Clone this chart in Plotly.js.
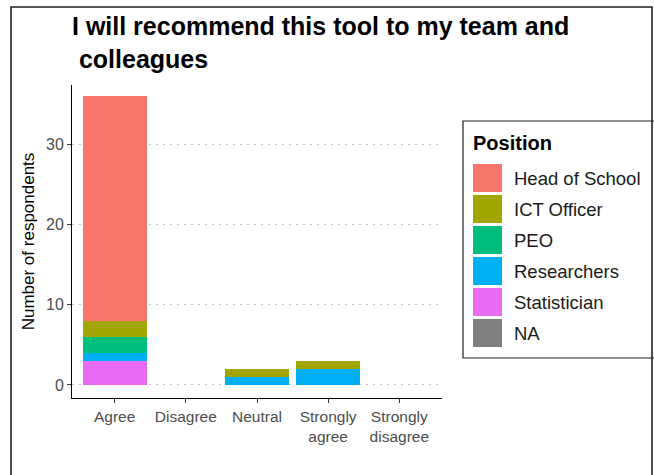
<!DOCTYPE html>
<html>
<head>
<meta charset="utf-8">
<script src="https://cdn.plot.ly/plotly-3.0.1.min.js"></script>
<style>
  html, body { margin: 0; padding: 0; background: #ffffff; }
  #chart { width: 654px; height: 475px; }
</style>
</head>
<body>
<div id="chart"></div>
<script>
// ---------- data ----------
const categories = ['Agree', 'Disagree', 'Neutral', 'Strongly agree', 'Strongly disagree'];
const tickLabels = ['Agree', 'Disagree', 'Neutral', 'Strongly<br>agree', 'Strongly<br>disagree'];
const positions = ['Head of School', 'ICT Officer', 'PEO', 'Researchers', 'Statistician', 'NA'];
const positionColors = ['#F8766D', '#A3A500', '#00BF7D', '#00B0F6', '#E76BF3', '#7F7F7F'];

const headOfSchool = [28, 0, 0, 0, 0];
const ictOfficer   = [2, 0, 1, 1, 0];
const peo          = [2, 0, 0, 0, 0];
const researchers  = [1, 0, 1, 2, 0];
const statistician = [3, 0, 0, 0, 0];
const naValues     = [0, 0, 0, 0, 0];

const seriesValues = [headOfSchool, ictOfficer, peo, researchers, statistician, naValues];
const yTicks = [0, 10, 20, 30];

// ---------- layout geometry (pixels) ----------
const W = 654, H = 475;
const M = { l: 72, r: 212, t: 85, b: 77 };
const plotW = W - M.l - M.r, plotH = H - M.t - M.b;
const px2x = px => (px - M.l) / plotW;
const px2y = py => (H - M.b - py) / plotH;

// ggplot stacks first level on top -> add traces bottom-up
const traces = [];
for (let i = positions.length - 1; i >= 0; i--) {
  traces.push({
    type: 'bar',
    name: positions[i],
    x: categories,
    y: seriesValues[i],
    marker: { color: positionColors[i], line: { width: 0 } },
    showlegend: false,
    hoverinfo: 'x+y+name'
  });
}

// ---------- custom legend (large swatches like ggplot) ----------
const shapes = [];
const annotations = [];
const FONT = 'Liberation Sans, Arial, sans-serif';

// outer frame
shapes.push({
  type: 'rect', xref: 'paper', yref: 'paper', layer: 'above',
  x0: px2x(11), x1: px2x(652), y0: px2y(490), y1: px2y(7),
  line: { color: '#222222', width: 1.6 }, fillcolor: 'rgba(0,0,0,0)'
});
// legend box
shapes.push({
  type: 'rect', xref: 'paper', yref: 'paper',
  x0: px2x(463), x1: px2x(670), y0: px2y(358), y1: px2y(121),
  line: { color: '#222222', width: 1.2 }, fillcolor: 'rgba(0,0,0,0)'
});
annotations.push({
  xref: 'paper', yref: 'paper', x: px2x(471), y: px2y(143),
  xanchor: 'left', yanchor: 'middle', showarrow: false,
  text: '<b>Position</b>', font: { family: FONT, size: 20, color: '#000000' }
});
positions.forEach((p, i) => {
  const top = 164 + 31 * i;
  shapes.push({
    type: 'rect', xref: 'paper', yref: 'paper',
    x0: px2x(473), x1: px2x(502), y0: px2y(top + 28), y1: px2y(top),
    line: { width: 0 }, fillcolor: positionColors[i]
  });
  annotations.push({
    xref: 'paper', yref: 'paper', x: px2x(512), y: px2y(top + 14),
    xanchor: 'left', yanchor: 'middle', showarrow: false,
    text: p, font: { family: FONT, size: 18.5, color: '#1a1a1a' }
  });
});

const layout = {
  width: W, height: H, autosize: false,
  margin: M,
  paper_bgcolor: '#ffffff', plot_bgcolor: '#ffffff',
  barmode: 'stack', bargap: 0.1,
  font: { family: FONT },
  title: {
    text: 'I will recommend this tool to my team and<br>&nbsp;colleagues',
    font: { family: FONT, size: 25, color: '#000000', weight: 'bold' },
    xref: 'paper', x: 0, xanchor: 'left',
    yref: 'container', y: 1 - 35 / H, yanchor: 'top'
  },
  xaxis: {
    type: 'category',
    tickmode: 'array', tickvals: categories, ticktext: tickLabels,
    range: [-0.6, categories.length - 0.4],
    showline: true, linecolor: '#000000', linewidth: 1,
    ticks: 'outside', ticklen: 4, tickcolor: '#333333', tickwidth: 1,
    showgrid: false, zeroline: false,
    tickfont: { family: FONT, size: 15.5, color: '#4d4d4d' },
    fixedrange: true
  },
  yaxis: {
    range: [-1.62, 37.35],
    tickmode: 'array', tickvals: yTicks,
    showline: true, linecolor: '#000000', linewidth: 1,
    ticks: 'outside', ticklen: 4, tickcolor: '#333333', tickwidth: 1,
    showgrid: true, gridcolor: '#c4c4c4', griddash: '2px,5px', gridwidth: 1,
    zeroline: false,
    tickfont: { family: FONT, size: 16, color: '#4d4d4d' },
    title: { text: 'Number of respondents', font: { family: FONT, size: 17, color: '#000000' }, standoff: 7 },
    fixedrange: true
  },
  shapes: shapes,
  annotations: annotations
};

Plotly.newPlot('chart', traces, layout, { displayModeBar: false, staticPlot: true });
</script>
</body>
</html>
